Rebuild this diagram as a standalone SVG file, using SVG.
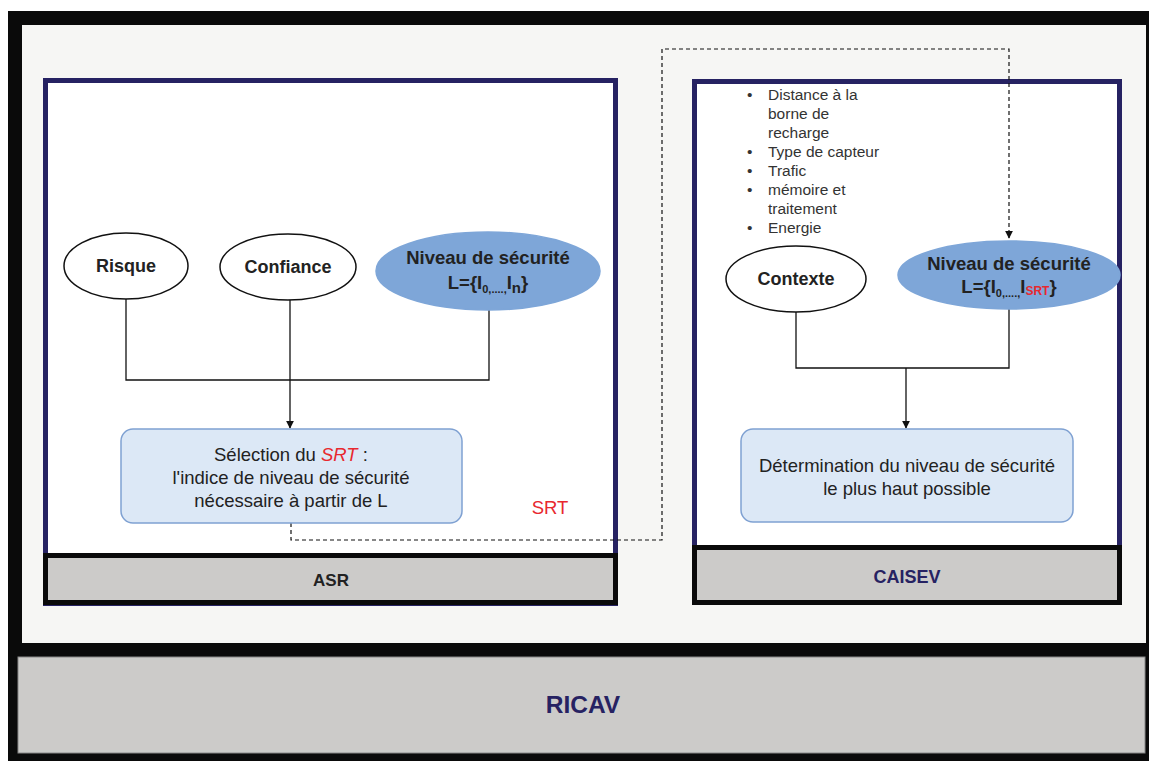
<svg xmlns="http://www.w3.org/2000/svg" width="1149" height="761" viewBox="0 0 1149 761">
<defs>
<style>
text{font-family:"Liberation Sans",Arial,sans-serif;fill:#222;}
.b{font-weight:bold;}
.t16{font-size:18.5px;}
.lbl{font-size:18px;font-weight:bold;}
.lst{font-size:15.5px;fill:#333;}
.ell{fill:#fff;stroke:#111;stroke-width:1.5;}
.bell{fill:#7ea6d8;stroke:#7ea6d8;stroke-width:1.5;}
.proc{fill:#dce8f6;stroke:#7fa1d2;stroke-width:1.5;}
.cont{fill:#fff;stroke:#262262;stroke-width:5;}
.bar{fill:#cccbc9;stroke:#0a0a0a;stroke-width:5;}
.ln{fill:none;stroke:#111;stroke-width:1.3;}
.dash{fill:none;stroke:#111;stroke-width:1.2;stroke-dasharray:4 3;}
.red{fill:#e8282f;}
</style>
<marker id="arr" viewBox="0 0 10 10" refX="9" refY="5" markerWidth="8" markerHeight="8" orient="auto" markerUnits="userSpaceOnUse">
<path d="M0,0 L10,5 L0,10 z" fill="#111"/>
</marker>
</defs>

<g id="frame">
<rect x="8" y="11" width="1141" height="750" fill="#0a0a0a"/>
<rect x="22" y="25" width="1124" height="618" fill="#f6f6f4"/>
</g>

<g id="ricav">
<rect x="18" y="657" width="1127" height="96" fill="#cccbc9" stroke="#888" stroke-width="1"/>
<text x="583" y="713" text-anchor="middle" style="font-size:24.5px;font-weight:bold;fill:#262262">RICAV</text>
</g>

<g id="asr">
<rect x="45.5" y="80.5" width="570" height="523" class="cont"/>
<rect x="45.5" y="555.5" width="570" height="47" class="bar"/>
<text x="331" y="586" text-anchor="middle" style="font-size:17px;font-weight:bold">ASR</text>
</g>

<g id="caisev">
<rect x="694.5" y="81.5" width="425" height="521" class="cont"/>
<rect x="694.5" y="547.5" width="425" height="55" class="bar"/>
<text x="907" y="583" text-anchor="middle" style="font-size:18px;font-weight:bold;fill:#262262">CAISEV</text>
</g>

<g id="connectors">
<path d="M126,299 V380 H489 V310" class="ln"/>
<path d="M290,300 V428" class="ln" marker-end="url(#arr)"/>
<path d="M796,311 V368 H1009 V309" class="ln"/>
<path d="M906,368 V428" class="ln" marker-end="url(#arr)"/>
<path d="M291,523 V540 H662 V49 H1009 V238" class="dash" marker-end="url(#arr)"/>
</g>

<g id="risque">
<ellipse cx="126" cy="266" rx="62" ry="33" class="ell"/>
<text x="126" y="272" text-anchor="middle" class="lbl">Risque</text>
</g>

<g id="confiance">
<ellipse cx="288" cy="267" rx="68" ry="33" class="ell"/>
<text x="288" y="273" text-anchor="middle" class="lbl">Confiance</text>
</g>

<g id="niveau-asr">
<ellipse cx="488" cy="271" rx="112" ry="39" class="bell"/>
<text x="488" y="264" text-anchor="middle" class="lbl" style="font-size:18.5px">Niveau de sécurité</text>
<text x="488" y="289" text-anchor="middle" class="lbl" style="font-size:18.5px">L={I<tspan dy="4" style="font-size:11px">0,....,</tspan><tspan dy="-4">I</tspan><tspan dy="4" style="font-size:15px">n</tspan><tspan dy="-4">}</tspan></text>
</g>

<g id="selection">
<rect x="121" y="429" width="341" height="94" rx="12" class="proc"/>
<text x="291" y="461" text-anchor="middle" class="t16">Sélection du <tspan class="red" font-style="italic">SRT</tspan> :</text>
<text x="291" y="484" text-anchor="middle" class="t16">l'indice de niveau de sécurité</text>
<text x="291" y="507" text-anchor="middle" class="t16">nécessaire à partir de L</text>
</g>

<g id="srt-label">
<text x="550" y="514" text-anchor="middle" class="t16 red">SRT</text>
</g>

<g id="contexte">
<ellipse cx="796" cy="279" rx="70" ry="33" class="ell"/>
<text x="796" y="285" text-anchor="middle" class="lbl">Contexte</text>
</g>

<g id="niveau-caisev">
<ellipse cx="1009" cy="275" rx="111" ry="34" class="bell"/>
<text x="1009" y="270" text-anchor="middle" class="lbl" style="font-size:18.5px">Niveau de sécurité</text>
<text x="1009" y="293" text-anchor="middle" class="lbl" style="font-size:18.5px">L={I<tspan dy="4" style="font-size:11px">0,....,</tspan><tspan dy="-4">I</tspan><tspan dy="2" class="red" style="font-size:12px">SRT</tspan><tspan dy="-2">}</tspan></text>
</g>

<g id="contexte-list">
<text class="lst" x="747" y="100">•</text><text class="lst" x="768" y="100">Distance à la</text>
<text class="lst" x="768" y="119">borne de</text>
<text class="lst" x="768" y="138">recharge</text>
<text class="lst" x="747" y="157">•</text><text class="lst" x="768" y="157">Type de capteur</text>
<text class="lst" x="747" y="176">•</text><text class="lst" x="768" y="176">Trafic</text>
<text class="lst" x="747" y="195">•</text><text class="lst" x="768" y="195">mémoire et</text>
<text class="lst" x="768" y="214">traitement</text>
<text class="lst" x="747" y="233">•</text><text class="lst" x="768" y="233">Energie</text>
</g>

<g id="determination">
<rect x="741" y="429" width="332" height="93" rx="12" class="proc"/>
<text x="907" y="472" text-anchor="middle" class="t16">Détermination du niveau de sécurité</text>
<text x="907" y="495" text-anchor="middle" class="t16">le plus haut possible</text>
</g>
</svg>
